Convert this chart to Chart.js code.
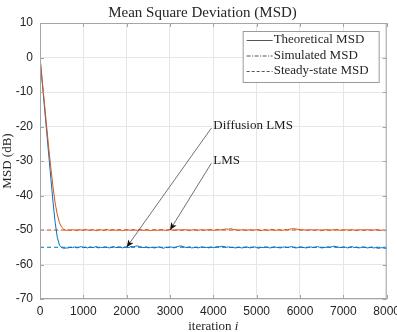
<!DOCTYPE html>
<html lang="en">
<head>
    <meta charset="UTF-8">
    <title>Mean Square Deviation (MSD)</title>
    <script src="https://cdn.jsdelivr.net/npm/chart.js"></script>
    <style>
        html, body { margin: 0; padding: 0; background: #fff; overflow: hidden; }
        .wrap { width: 397px; height: 332px; overflow: hidden; }
        .box { width: 405px; height: 334px; }
    </style>
</head>
<body>
<div class="wrap"><div class="box"><canvas id="msdChart" width="405" height="334"></canvas></div></div>
<script>
    // iteration index of each sample
    const iterations = [
        0, 50, 100, 150, 200, 250, 300, 350, 400, 450, 500, 550, 600,
        650, 700, 750, 800, 850, 900, 950, 1000, 1050, 1100,
        1150, 1200, 1250, 1300, 1350, 1400, 1450, 1500, 1550, 1600,
        1650, 1700, 1750, 1800, 1850, 1900, 1950, 2000, 2050, 2100,
        2150, 2200, 2250, 2300, 2350, 2400, 2450, 2500, 2550, 2600,
        2650, 2700, 2750, 2800, 2850, 2900, 2950, 3000, 3050, 3100,
        3150, 3200, 3250, 3300, 3350, 3400, 3450, 3500, 3550, 3600,
        3650, 3700, 3750, 3800, 3850, 3900, 3950, 4000, 4050, 4100,
        4150, 4200, 4250, 4300, 4350, 4400, 4450, 4500, 4550, 4600,
        4650, 4700, 4750, 4800, 4850, 4900, 4950, 5000, 5050, 5100,
        5150, 5200, 5250, 5300, 5350, 5400, 5450, 5500, 5550, 5600,
        5650, 5700, 5750, 5800, 5850, 5900, 5950, 6000, 6050, 6100,
        6150, 6200, 6250, 6300, 6350, 6400, 6450, 6500, 6550, 6600,
        6650, 6700, 6750, 6800, 6850, 6900, 6950, 7000, 7050, 7100,
        7150, 7200, 7250, 7300, 7350, 7400, 7450, 7500, 7550, 7600,
        7650, 7700, 7750, 7800, 7850, 7900, 7950, 8000
    ];

    // LMS (orange) simulated MSD, dB
    const msdLms = [
        0, -6.5, -13, -19.5, -26, -32, -37.5, -42.2, -45.6, -47.9, -49.2, -49.8, -50.1,
        -50.0, -50.1, -49.9, -50.0, -50.2, -49.9, -50.0, -50.1, -49.8, -50.0,
        -50.1, -49.9, -50.0, -50.2, -50.0, -49.9, -50.1, -50.0, -49.8, -50.1,
        -50.0, -49.9, -50.1, -50.0, -49.9, -50.2, -50.0, -49.9, -50.0, -50.1,
        -49.9, -50.0, -50.1, -49.8, -50.0, -50.1, -49.9, -50.0, -50.2, -50.0,
        -49.9, -50.1, -50.0, -49.9, -50.0, -50.1, -50.0, -49.8, -50.0, -50.1,
        -50.0, -49.9, -50.1, -50.0, -49.9, -50.0, -50.2, -50.0, -49.9, -50.0,
        -50.1, -49.9, -50.0, -50.1, -49.9, -50.0, -49.9, -50.1, -50.0, -49.8,
        -50.0, -49.9, -49.8, -49.7, -49.8, -49.6, -49.8, -49.9, -50.0, -50.1,
        -49.9, -50.0, -50.1, -50.0, -49.9, -50.1, -50.0, -49.9, -50.0, -50.2,
        -50.0, -49.9, -50.1, -50.0, -49.8, -50.0, -50.1, -49.9, -50.0, -50.1,
        -49.9, -50.0, -49.8, -49.7, -49.6, -49.7, -49.8, -49.9, -50.0, -49.9,
        -50.1, -50.0, -49.9, -50.0, -50.1, -49.9, -50.0, -50.2, -50.0, -49.9,
        -50.0, -50.1, -49.9, -50.0, -49.8, -50.0, -50.1, -50.0, -49.9, -50.0,
        -50.1, -49.9, -50.0, -50.2, -50.0, -49.9, -50.1, -50.0, -49.9, -50.0,
        -50.1, -50.0, -49.9, -50.0, -50.1, -50.0, -50.2, -50.1
    ];

    // Diffusion LMS (blue) simulated MSD, dB
    const msdDiffusion = [
        0, -7, -14, -21, -28, -35, -41.8, -47.8, -52.2, -54.4, -55.1, -55.3, -55.2,
        -55.2, -55.0, -55.1, -54.9, -55.2, -55.0, -54.8, -55.1, -55.0, -55.2,
        -54.9, -55.1, -55.0, -54.8, -55.2, -55.0, -55.1, -54.9, -55.0, -55.2,
        -55.0, -54.8, -55.1, -55.0, -54.9, -55.2, -55.0, -54.9, -55.1, -54.8,
        -54.9, -54.7, -54.6, -54.8, -55.0, -55.1, -54.9, -55.2, -55.0, -55.1,
        -55.2, -55.0, -54.9, -55.1, -55.3, -55.0, -55.1, -54.9, -55.0, -55.2,
        -54.9, -54.7, -54.6, -54.8, -55.0, -55.1, -54.9, -55.2, -55.1, -55.0,
        -55.2, -55.0, -54.9, -55.1, -55.0, -55.2, -54.9, -55.1, -55.0, -54.8,
        -54.9, -54.7, -54.8, -55.0, -54.9, -55.1, -55.0, -55.2, -55.1, -55.0,
        -55.2, -55.1, -54.9, -55.0, -55.2, -55.0, -54.9, -55.1, -55.3, -55.0,
        -55.1, -54.9, -55.0, -55.2, -55.1, -54.9, -55.0, -55.1, -55.2, -55.0,
        -54.9, -55.1, -55.0, -54.8, -55.0, -55.2, -55.1, -54.9, -55.0, -55.1,
        -55.2, -55.0, -54.9, -55.1, -55.0, -54.8, -55.0, -55.2, -55.1, -55.0,
        -54.9, -55.0, -54.8, -54.7, -54.9, -55.0, -55.1, -54.9, -55.0, -55.2,
        -55.0, -54.8, -55.1, -55.0, -55.2, -55.1, -54.9, -55.0, -55.2, -55.1,
        -55.0, -55.2, -55.1, -55.3, -55.2, -55.1, -55.3, -55.4
    ];

    // steady-state levels (dB) over the whole run
    const steadyIter = [0, 8000];
    const steadyLms = [-50, -50];
    const steadyDiffusion = [-55, -55];

    const legendLabels = ['Theoretical MSD', 'Simulated MSD', 'Steady-state MSD'];
    const legendDashes = [[], [4, 1.5, 1, 1.5], [3, 2]];

    // text arrows: label position (x, dB) -> arrow head (x, dB)
    const notes = [
        { text: 'Diffusion LMS', x: 4000, y: -19.6, tipX: 2000, tipY: -55 },
        { text: 'LMS', x: 4000, y: -29.8, tipX: 3000, tipY: -50 }
    ];

    const RED = '#D95319';
    const BLUE = '#0072BD';
    const SERIF = '"Liberation Serif", "DejaVu Serif", serif';
    const SANS = '"Liberation Sans", Arial, sans-serif';

    function toPoints(xs, ys) {
        return xs.map((x, k) => ({ x: x, y: ys[k] }));
    }

    // box around the axes plus small inward ticks, x label with italic i
    const frame = {
        id: 'frame',
        afterDraw(chart) {
            const { ctx, chartArea: a, scales } = chart;
            ctx.save();
            ctx.strokeStyle = '#a6a6a6';
            ctx.lineWidth = 1;
            ctx.strokeRect(a.left + 0.5, a.top + 0.5, a.right - a.left - 1, a.bottom - a.top - 1);
            scales.x.ticks.forEach(t => {
                const px = Math.round(scales.x.getPixelForValue(t.value)) + 0.5;
                ctx.beginPath();
                ctx.moveTo(px, a.bottom); ctx.lineTo(px, a.bottom - 4);
                ctx.moveTo(px, a.top); ctx.lineTo(px, a.top + 4);
                ctx.stroke();
            });
            scales.y.ticks.forEach(t => {
                const py = Math.round(scales.y.getPixelForValue(t.value)) + 0.5;
                ctx.beginPath();
                ctx.moveTo(a.left, py); ctx.lineTo(a.left + 4, py);
                ctx.moveTo(a.right, py); ctx.lineTo(a.right - 4, py);
                ctx.stroke();
            });

            ctx.fillStyle = '#262626';
            ctx.textBaseline = 'middle';
            ctx.font = '13px ' + SERIF;
            const head = 'iteration ';
            const w1 = ctx.measureText(head).width;
            ctx.font = 'italic 13px ' + SERIF;
            const w2 = ctx.measureText('i').width;
            const cx = (a.left + a.right) / 2;
            const x0 = cx - (w1 + w2) / 2;
            ctx.font = '13px ' + SERIF;
            ctx.fillText(head, x0, 327);
            ctx.font = 'italic 13px ' + SERIF;
            ctx.fillText('i', x0 + w1, 327);
            ctx.restore();
        }
    };

    const boxLegend = {
        id: 'boxLegend',
        afterDraw(chart) {
            const { ctx, chartArea: a } = chart;
            const w = 136, h = 51;
            const left = a.right - 8 - w;
            const top = a.top + 8;
            ctx.save();
            ctx.fillStyle = '#fff';
            ctx.fillRect(left, top, w, h);
            ctx.strokeStyle = '#9a9a9a';
            ctx.lineWidth = 1;
            ctx.strokeRect(left + 0.5, top + 0.5, w, h);
            ctx.font = '13px ' + SERIF;
            ctx.textBaseline = 'middle';
            ctx.fillStyle = '#262626';
            legendLabels.forEach((lbl, k) => {
                const y = top + 9 + k * 15.5;
                ctx.strokeStyle = '#555';
                ctx.lineWidth = 1;
                ctx.setLineDash(legendDashes[k]);
                ctx.beginPath();
                ctx.moveTo(left + 4, y + 0.5);
                ctx.lineTo(left + 30, y + 0.5);
                ctx.stroke();
                ctx.setLineDash([]);
                ctx.fillText(lbl, left + 31, y);
            });
            ctx.restore();
        }
    };

    const arrowNotes = {
        id: 'arrowNotes',
        afterDatasetsDraw(chart) {
            const { ctx, scales: { x, y } } = chart;
            ctx.save();
            ctx.font = '13px ' + SERIF;
            ctx.textBaseline = 'middle';
            notes.forEach(n => {
                const tx = x.getPixelForValue(n.x);
                const ty = y.getPixelForValue(n.y);
                const hx = x.getPixelForValue(n.tipX);
                const hy = y.getPixelForValue(n.tipY);
                const sx = tx - 2, sy = ty + 3;
                const ang = Math.atan2(hy - sy, hx - sx);
                ctx.strokeStyle = '#4d4d4d';
                ctx.lineWidth = 0.8;
                ctx.beginPath();
                ctx.moveTo(sx, sy);
                ctx.lineTo(hx - Math.cos(ang) * 5, hy - Math.sin(ang) * 5);
                ctx.stroke();
                ctx.fillStyle = '#111';
                ctx.beginPath();
                ctx.moveTo(hx, hy);
                ctx.lineTo(hx - Math.cos(ang - 0.4) * 8, hy - Math.sin(ang - 0.4) * 8);
                ctx.lineTo(hx - Math.cos(ang) * 5.5, hy - Math.sin(ang) * 5.5);
                ctx.lineTo(hx - Math.cos(ang + 0.4) * 8, hy - Math.sin(ang + 0.4) * 8);
                ctx.closePath();
                ctx.fill();
                ctx.fillStyle = '#1a1a1a';
                ctx.fillText(n.text, tx, ty);
            });
            ctx.restore();
        }
    };

    new Chart(document.getElementById('msdChart'), {
        type: 'line',
        data: {
            datasets: [
                { label: 'LMS', data: toPoints(iterations, msdLms), borderColor: RED, borderWidth: 1 },
                { label: 'Diffusion LMS', data: toPoints(iterations, msdDiffusion), borderColor: BLUE, borderWidth: 1 },
                { label: 'LMS steady-state', data: toPoints(steadyIter, steadyLms), borderColor: RED, borderWidth: 1, borderDash: [4, 3] },
                { label: 'Diffusion steady-state', data: toPoints(steadyIter, steadyDiffusion), borderColor: BLUE, borderWidth: 1, borderDash: [4, 3] }
            ]
        },
        options: {
            responsive: false,
            animation: false,
            elements: { point: { radius: 0 }, line: { tension: 0 } },
            layout: { padding: 0 },
            plugins: {
                legend: { display: false },
                tooltip: { enabled: false },
                title: {
                    display: true,
                    text: 'Mean Square Deviation (MSD)',
                    color: '#262626',
                    font: { family: SERIF, size: 15, weight: 'normal', lineHeight: 1.2 },
                    padding: { top: 4, bottom: 1 }
                }
            },
            scales: {
                x: {
                    type: 'linear',
                    min: 0,
                    max: 8000,
                    ticks: {
                        stepSize: 1000, maxRotation: 0, padding: 5, color: '#262626',
                        font: { family: SANS, size: 12 },
                        callback: v => String(v)
                    },
                    grid: { color: '#e6e6e6', drawTicks: false },
                    border: { display: false },
                    afterFit(scale) { scale.height = 35; }
                },
                y: {
                    min: -70,
                    max: 10,
                    ticks: { stepSize: 10, padding: 7, color: '#262626', font: { family: SANS, size: 12 } },
                    grid: { color: '#e6e6e6', drawTicks: false },
                    border: { display: false },
                    title: {
                        display: true,
                        text: 'MSD (dB)',
                        color: '#262626',
                        font: { family: SERIF, size: 13, lineHeight: 1.1 },
                        padding: 0
                    },
                    afterFit(scale) { scale.width = 40; }
                }
            }
        },
        plugins: [frame, arrowNotes, boxLegend]
    });
</script>
</body>
</html>
